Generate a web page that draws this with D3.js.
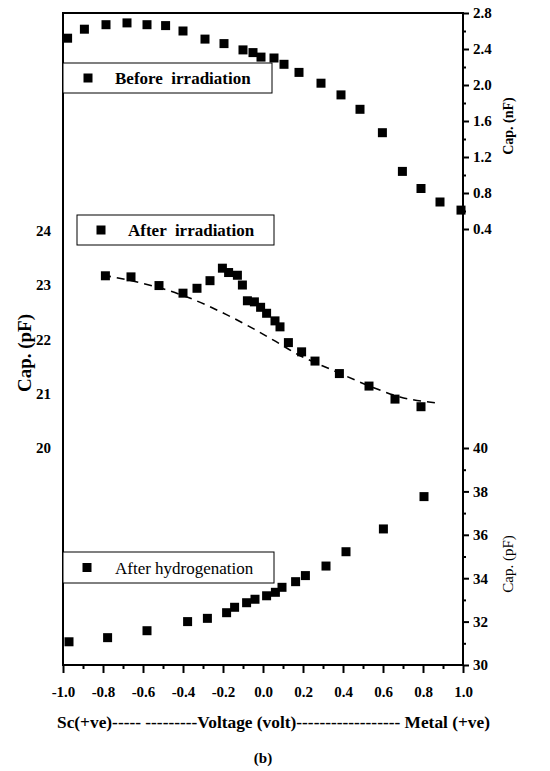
<!DOCTYPE html>
<meta charset="utf-8">
<style>
body { margin: 0; background: #fff; }
text { font-family: "Liberation Serif", "Times New Roman", serif; fill: #000; }
.bold { font-weight: bold; }
.axis path { display: none; }
.axis line { stroke: #000; stroke-width: 2; }
.axis text { font-family: "Liberation Serif", serif; font-weight: bold; font-size: 15px; }
</style>
<svg width="550" height="771"></svg>
<script src="https://cdn.jsdelivr.net/npm/d3@7"></script>
<script>

  // voltage (V) and capacitance
  var voltBefore = [-0.977, -0.893, -0.785, -0.68, -0.58, -0.487, -0.40, -0.29, -0.195, -0.10, -0.05, -0.01, 0.055, 0.105, 0.18, 0.29, 0.39, 0.485, 0.597, 0.697, 0.79, 0.885, 0.99];
  var capBefore = [2.52, 2.62, 2.67, 2.69, 2.67, 2.66, 2.60, 2.51, 2.46, 2.39, 2.36, 2.31, 2.30, 2.23, 2.14, 2.02, 1.89, 1.73, 1.47, 1.04, 0.85, 0.70, 0.61];

  var voltIrr = [-0.788, -0.66, -0.52, -0.40, -0.33, -0.265, -0.203, -0.172, -0.128, -0.103, -0.078, -0.043, -0.012, 0.018, 0.06, 0.085, 0.127, 0.193, 0.26, 0.382, 0.53, 0.66, 0.79];
  var capIrr = [23.17, 23.15, 22.99, 22.85, 22.94, 23.08, 23.31, 23.23, 23.18, 23.00, 22.71, 22.69, 22.59, 22.48, 22.34, 22.23, 21.94, 21.77, 21.60, 21.37, 21.14, 20.90, 20.76];

  // dashed fit through the after-irradiation data
  var voltFit = [-0.80, -0.74, -0.38, -0.18, -0.065, 0.05, 0.17, 0.35, 0.52, 0.685, 0.868];
  var capFit = [23.18, 23.14, 22.78, 22.45, 22.23, 21.99, 21.73, 21.43, 21.16, 20.94, 20.83];

  var voltHyd = [-0.97, -0.777, -0.58, -0.377, -0.278, -0.182, -0.142, -0.082, -0.04, 0.018, 0.062, 0.095, 0.163, 0.212, 0.315, 0.415, 0.602, 0.805];
  var capHyd = [31.07, 31.26, 31.58, 32.0, 32.15, 32.41, 32.66, 32.87, 33.03, 33.19, 33.35, 33.58, 33.84, 34.12, 34.56, 35.22, 36.27, 37.76];

  // ticks
  var xTicks = [-1.0, -0.8, -0.6, -0.4, -0.2, 0.0, 0.2, 0.4, 0.6, 0.8, 1.0];
  var xMinor = [-0.9, -0.7, -0.5, -0.3, -0.1, 0.1, 0.3, 0.5, 0.7, 0.9];
  var nfTicks = [0.4, 0.8, 1.2, 1.6, 2.0, 2.4, 2.8];
  var nfMinor = [0.6, 1.0, 1.4, 1.8, 2.2, 2.6];
  var pfLeftTicks = [20, 21, 22, 23, 24];
  var pfRightTicks = [30, 32, 34, 36, 38, 40];
  var pfRightMinor = [31, 33, 35, 37, 39];

  var svg = d3.select("svg");
  var plotL = 63, plotR = 463, plotT = 13, plotB = 665;

  // scales
  var x = d3.scaleLinear().domain([-1, 1]).range([plotL, plotR]);
  var yNF = d3.scaleLinear().domain([0.4, 2.8]).range([229, plotT]);
  var yPF = d3.scaleLinear().domain([20, 24]).range([448, 230.7]);
  var yH = d3.scaleLinear().domain([30, 40]).range([plotB, 448]);

  var fmt = function(d) { return d.toFixed(1); };

  // x axis
  svg.append("g").attr("class", "axis")
    .attr("transform", "translate(0," + plotB + ")")
    .call(d3.axisBottom(x).tickValues(xTicks).tickSize(8).tickPadding(13).tickFormat(fmt));
  svg.append("g").attr("class", "axis")
    .attr("transform", "translate(0," + plotB + ")")
    .call(d3.axisBottom(x).tickValues(xMinor).tickSize(4).tickFormat(""));

  // left axis (labels only)
  svg.append("g").attr("class", "axis")
    .attr("transform", "translate(" + plotL + ",0)")
    .call(d3.axisLeft(yPF).tickValues(pfLeftTicks).tickSize(0).tickPadding(12).tickFormat(d3.format("d")));

  // right axes
  svg.append("g").attr("class", "axis")
    .attr("transform", "translate(" + plotR + ",0)")
    .call(d3.axisRight(yNF).tickValues(nfTicks).tickSize(6).tickPadding(4).tickFormat(fmt));
  svg.append("g").attr("class", "axis")
    .attr("transform", "translate(" + plotR + ",0)")
    .call(d3.axisRight(yNF).tickValues(nfMinor).tickSize(3).tickFormat(""));
  svg.append("g").attr("class", "axis")
    .attr("transform", "translate(" + plotR + ",0)")
    .call(d3.axisRight(yH).tickValues(pfRightTicks).tickSize(6).tickPadding(4).tickFormat(d3.format("d")));
  svg.append("g").attr("class", "axis")
    .attr("transform", "translate(" + plotR + ",0)")
    .call(d3.axisRight(yH).tickValues(pfRightMinor).tickSize(3).tickFormat(""));

  // frame
  svg.append("rect")
    .attr("x", plotL).attr("y", plotT)
    .attr("width", plotR - plotL).attr("height", plotB - plotT)
    .attr("fill", "none").attr("stroke", "#000").attr("stroke-width", 2);

  // markers
  var sq = 9;
  function squares(xs, ys, yScale) {
    svg.append("g").selectAll("rect")
      .data(xs)
      .enter().append("rect")
      .attr("x", function(d) { return x(d) - sq / 2; })
      .attr("y", function(d, i) { return yScale(ys[i]) - sq / 2; })
      .attr("width", sq).attr("height", sq)
      .attr("fill", "#000");
  }

  // fit line
  var line = d3.line()
    .x(function(d) { return x(d); })
    .y(function(d, i) { return yPF(capFit[i]); })
    .curve(d3.curveMonotoneX);
  svg.append("path")
    .attr("d", line(voltFit))
    .attr("fill", "none").attr("stroke", "#000")
    .attr("stroke-width", 1.6).attr("stroke-dasharray", "8,6");

  squares(voltBefore, capBefore, yNF);
  squares(voltIrr, capIrr, yPF);
  squares(voltHyd, capHyd, yH);

  // legends
  function legend(x0, y0, w, h, mx, tx, label, bold) {
    var g = svg.append("g");
    g.append("rect").attr("x", x0).attr("y", y0).attr("width", w).attr("height", h)
      .attr("fill", "#fff").attr("stroke", "#000").attr("stroke-width", 1);
    g.append("rect").attr("x", mx - sq / 2).attr("y", y0 + h / 2 - sq / 2)
      .attr("width", sq).attr("height", sq).attr("fill", "#000");
    g.append("text").attr("x", tx).attr("y", y0 + h / 2 + 6)
      .attr("class", bold ? "bold" : null)
      .style("font-size", "17px").style("white-space", "pre")
      .text(label);
  }
  legend(63, 63, 209, 30, 88, 115, "Before  irradiation", true);
  legend(77, 215, 197, 30, 101, 128, "After  irradiation", true);
  legend(63, 552, 211, 31, 87, 115, "After hydrogenation", false);

  // axis titles
  svg.append("text").attr("class", "bold")
    .attr("transform", "translate(31,353) rotate(-90)")
    .attr("text-anchor", "middle").style("font-size", "19px")
    .text("Cap. (pF)");
  svg.append("text").attr("class", "bold")
    .attr("transform", "translate(513,126) rotate(-90)")
    .attr("text-anchor", "middle").style("font-size", "14px")
    .text("Cap. (nF)");
  svg.append("text")
    .attr("transform", "translate(513,564) rotate(-90)")
    .attr("text-anchor", "middle").style("font-size", "15px")
    .text("Cap. (pF)");

  svg.append("text").attr("class", "bold")
    .attr("x", 57).attr("y", 728)
    .attr("textLength", 433).attr("lengthAdjust", "spacingAndGlyphs")
    .style("font-size", "17px").style("white-space", "pre")
    .text("Sc(+ve)----- ---------Voltage (volt)------------------ Metal (+ve)");

  svg.append("text").attr("class", "bold")
    .attr("x", 263).attr("y", 763).attr("text-anchor", "middle")
    .style("font-size", "15px")
    .text("(b)");
</script>
